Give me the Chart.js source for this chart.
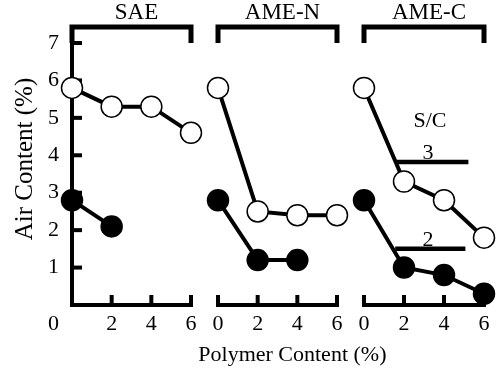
<!DOCTYPE html>
<html><head><meta charset="utf-8">
<script src="https://cdn.jsdelivr.net/npm/chart.js@4.4.1/dist/chart.umd.min.js"></script>
<style>
html,body{margin:0;padding:0;background:#fff;}
#wrap{position:relative;width:497px;height:376px;overflow:hidden;}
#wrap canvas{position:absolute;left:0;top:0;}
</style></head><body>
<div id="wrap">
<canvas id="c0" width="497" height="376"></canvas>
<canvas id="c1" width="497" height="376"></canvas>
<canvas id="c2" width="497" height="376"></canvas>
</div>
<script>
// ---- data ----
const panelNames = ['SAE', 'AME-N', 'AME-C'];
const polymerContent = [0, 2, 4, 6];
const saeSC3  = [5.8, 5.3, 5.3, 4.6];
const saeSC2  = [2.8, 2.1];
const ameNSC3 = [5.8, 2.5, 2.4, 2.4];
const ameNSC2 = [2.8, 1.2, 1.2];
const ameCSC3 = [5.8, 3.3, 2.8, 1.8];
const ameCSC2 = [2.8, 1.0, 0.8, 0.3];
const xTickValues = [0, 2, 4, 6];
const yTickValues = [0, 1, 2, 3, 4, 5, 6, 7];
const scTitle = 'S/C';
const scLabels = ['3', '2'];
const scKeyLevels = [3.82, 1.5];
const scKeyStart = [1.56, 1.56];
const scKeyEnd = [5.22, 5.07];
const xTitle = 'Polymer Content (%)';
const yTitle = 'Air Content (%)';

const open = [saeSC3, ameNSC3, ameCSC3];
const filled = [saeSC2, ameNSC2, ameCSC2];

// ---- layout (pixels) ----
const W = 497, H = 376;
const areas = [[72, 191], [218, 337], [364, 484]];
const TOP = 43, BOTTOM = 305;
const FONT = 'Liberation Serif';
const FS = 22;

function pts(vals) { return vals.map((v, i) => ({x: polymerContent[i], y: v})); }

const axisPlugin = {
  id: 'panelAxes',
  beforeDatasetsDraw(chart, args, o) {
    const ctx = chart.ctx, xs = chart.scales.x, ys = chart.scales.y;
    const x0 = xs.getPixelForValue(0), x6 = xs.getPixelForValue(6);
    const y0 = ys.getPixelForValue(0), y7 = ys.getPixelForValue(7);
    const bt = y7 - 16;
    ctx.save();
    ctx.strokeStyle = '#000';
    ctx.lineCap = 'butt';
    ctx.lineJoin = 'miter';
    // bracket
    ctx.lineWidth = 5;
    ctx.beginPath();
    ctx.moveTo(x0, y7); ctx.lineTo(x0, bt); ctx.lineTo(x6, bt); ctx.lineTo(x6, y7);
    ctx.stroke();
    // x axis
    ctx.lineWidth = 4;
    ctx.beginPath();
    ctx.moveTo(x0 - 2, y0); ctx.lineTo(x6 + 2, y0);
    ctx.stroke();
    xTickValues.forEach(v => {
      if (o.yAxis && v === 0) return;
      const px = xs.getPixelForValue(v);
      ctx.beginPath(); ctx.moveTo(px, y0); ctx.lineTo(px, y0 - 10); ctx.stroke();
    });
    if (o.yAxis) {
      ctx.beginPath(); ctx.moveTo(x0, y0 + 2); ctx.lineTo(x0, bt); ctx.stroke();
      yTickValues.forEach(v => {
        if (v === 0) return;
        const py = ys.getPixelForValue(v);
        ctx.beginPath(); ctx.moveTo(x0, py); ctx.lineTo(x0 + 10, py); ctx.stroke();
      });
    }
    ctx.restore();
  },
  afterDraw(chart, args, o) {
    const ctx = chart.ctx, xs = chart.scales.x, ys = chart.scales.y;
    const y7 = ys.getPixelForValue(7);
    ctx.save();
    ctx.fillStyle = '#000';
    ctx.textBaseline = 'middle';
    ctx.textAlign = 'center';
    ctx.font = (FS + 1) + 'px "' + FONT + '"';
    ctx.fillText(o.name, xs.getPixelForValue(3.25), y7 - 30);
    ctx.font = FS + 'px "' + FONT + '"';
    if (o.yAxis) {
      // origin label
      ctx.textAlign = 'right';
      ctx.fillText('0', chart.chartArea.left - 13, xs.top + 6 + FS * 0.6);
      // y title
      ctx.save();
      ctx.font = (FS + 3) + 'px "' + FONT + '"';
      ctx.translate(chart.chartArea.left - 47, ys.getPixelForValue(3.9));
      ctx.rotate(-Math.PI / 2);
      ctx.textAlign = 'center';
      ctx.fillText(yTitle, 0, 0);
      ctx.restore();
    }
    if (o.xTitle) {
      ctx.textAlign = 'center';
      ctx.fillText(xTitle, xs.getPixelForValue(3.75), xs.top + 50);
    }
    if (o.key) {
      ctx.textAlign = 'center';
      ctx.fillText(scTitle, xs.getPixelForValue(3.3), ys.getPixelForValue(4.9));
      scLabels.forEach((t, i) => {
        ctx.fillText(t, xs.getPixelForValue(3.2), ys.getPixelForValue(scKeyLevels[i]) - 9);
      });
    }
    ctx.restore();
  }
};

panelNames.forEach((name, i) => {
  const [l, r] = areas[i];
  const datasets = [
    {data: pts(open[i]), borderColor: '#000', borderWidth: 4, pointRadius: 10.5,
     pointBackgroundColor: '#fff', pointBorderColor: '#000', pointBorderWidth: 1.5, clip: false},
    {data: pts(filled[i]), borderColor: '#000', borderWidth: 4, pointRadius: 10.5,
     pointBackgroundColor: '#000', pointBorderColor: '#000', pointBorderWidth: 1.5, clip: false}
  ];
  if (i === 2) {
    scKeyLevels.forEach((lv, k) => {
      datasets.push({data: [{x: scKeyStart[k], y: lv}, {x: scKeyEnd[k], y: lv}],
        borderColor: '#000', borderWidth: 4.5, pointRadius: 0, clip: false, order: 5});
    });
  }
  new Chart(document.getElementById('c' + i), {
    type: 'line',
    data: {datasets},
    options: {
      responsive: false, animation: false, events: [],
      layout: {padding: {left: i === 0 ? 0 : l, right: W - r, top: TOP, bottom: 0}},
      plugins: {legend: {display: false}, tooltip: {enabled: false},
        panelAxes: {name, yAxis: i === 0, xTitle: i === 1, key: i === 2}},
      scales: {
        x: {type: 'linear', min: 0, max: 6, offset: false,
          grid: {display: false, drawTicks: false}, border: {display: false},
          afterBuildTicks: s => { s.ticks = xTickValues.map(v => ({value: v})); },
          afterFit: s => { s.height = H - BOTTOM; },
          ticks: {autoSkip: false, maxRotation: 0, padding: 6, color: '#000',
            font: {family: FONT, size: FS},
            callback: v => (i === 0 && v === 0) ? '' : String(v)}},
        y: {type: 'linear', min: 0, max: 7, display: i === 0,
          grid: {display: false, drawTicks: false}, border: {display: false},
          afterBuildTicks: s => { s.ticks = yTickValues.map(v => ({value: v})); },
          afterFit: s => { s.width = i === 0 ? l : 0; },
          ticks: {padding: 13, color: '#000', font: {family: FONT, size: FS},
            callback: v => v === 0 ? '' : String(v)}}
      }
    },
    plugins: [axisPlugin]
  });
});
</script>
</body></html>
